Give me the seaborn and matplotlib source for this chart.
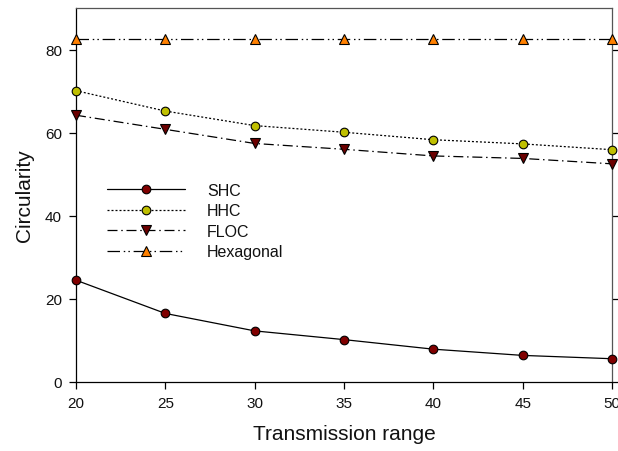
import matplotlib
matplotlib.use("Agg")
import matplotlib.pyplot as plt
import seaborn as sns
import pandas as pd

x_range = [20, 25, 30, 35, 40, 45, 50]
shc = [24.5, 16.5, 12.3, 10.2, 7.9, 6.4, 5.6]
hhc = [70.1, 65.2, 61.7, 60.1, 58.3, 57.3, 55.9]
floc = [64.2, 60.8, 57.4, 56.0, 54.4, 53.8, 52.5]
hexagonal = [82.6, 82.6, 82.6, 82.6, 82.6, 82.6, 82.6]
labels = ["SHC", "HHC", "FLOC", "Hexagonal"]
x_ticks = [20, 25, 30, 35, 40, 45, 50]
y_ticks = [0, 20, 40, 60, 80]

sns.set_style("ticks")
plt.rcParams["font.family"] = ["Liberation Sans", "DejaVu Sans"]
for k in ["text.color", "axes.labelcolor", "xtick.color", "ytick.color",
          "xtick.labelcolor", "ytick.labelcolor"]:
    plt.rcParams[k] = "#111111"

fig = plt.figure(figsize=(6.18, 4.52), dpi=100)
ax = fig.add_axes([76 / 618, 69 / 452, 536 / 618, 374 / 452])

series = [shc, hhc, floc, hexagonal]
styles = [
    dict(marker="o", color="#800000", ls="-", ms=6.2),
    dict(marker="o", color="#BFBF00", ls=(0, (1.6, 1.6)), ms=6.2),
    dict(marker="v", color="#6B0000", ls=(0, (8, 3, 1.2, 3)), ms=7.5),
    dict(marker="^", color="#FF8000", ls=(0, (10, 3, 1.2, 2.5, 1.2, 3)), ms=7.5),
]

for vals, lab, st in zip(series, labels, styles):
    df = pd.DataFrame({"x": x_range, "y": vals})
    sns.lineplot(data=df, x="x", y="y", ax=ax, label=lab, color="black",
                 linewidth=0.9, marker=st["marker"], markersize=st["ms"],
                 markerfacecolor=st["color"], markeredgecolor="black",
                 markeredgewidth=0.8, clip_on=False, zorder=3)
    line = ax.get_lines()[-1]
    line.set_linestyle(st["ls"])

ax.set_xlim(20, 50)
ax.set_ylim(0, 90)
ax.set_xticks(x_ticks)
ax.set_yticks(y_ticks)
ax.set_xlabel("Transmission range", fontsize=15, labelpad=10)
ax.set_ylabel("Circularity", fontsize=15, labelpad=8)
ax.tick_params(axis="both", labelsize=11, length=5, width=0.9, direction="out",
               color="black", pad=5)
ax.tick_params(axis="y", right=True, labelright=False)
for s in ax.spines.values():
    s.set_linewidth(0.9)
    s.set_color("black")
for s in ["top", "right"]:
    ax.spines[s].set_color("#555555")

handles, labs = ax.get_legend_handles_labels()
leg = ax.legend(handles, labs, loc="upper left", bbox_to_anchor=(0.045, 0.55),
                frameon=False, fontsize=11.5, handlelength=4.9,
                handletextpad=1.4, labelspacing=0.35, borderaxespad=0)

fig.savefig("out.png", dpi=100)
